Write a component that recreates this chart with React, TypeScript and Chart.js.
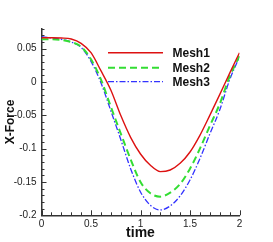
import React, { useEffect, useRef } from "react";
import { Chart, registerables } from "chart.js";

Chart.register(...registerables);

const times = [0, 0.1, 0.2, 0.3, 0.4, 0.5, 0.6, 0.7, 0.8, 0.9, 1.0, 1.1, 1.2, 1.3, 1.4, 1.5, 1.6, 1.7, 1.8, 1.9, 2.0];
const mesh1 = [0.0665, 0.0665, 0.066, 0.0645, 0.058, 0.044, 0.017, -0.012, -0.05, -0.083, -0.108, -0.125, -0.1345, -0.132, -0.122, -0.105, -0.08, -0.05, -0.019, 0.013, 0.044];
const mesh2 = [0.064, 0.064, 0.063, 0.06, 0.053, 0.034, 0.004, -0.037, -0.077, -0.116, -0.15, -0.167, -0.172, -0.166, -0.153, -0.13, -0.1, -0.066, -0.033, 0.008, 0.039];
const mesh3 = [0.068, 0.066, 0.064, 0.06, 0.052, 0.031, -0.001, -0.043, -0.086, -0.13, -0.165, -0.185, -0.192, -0.186, -0.171, -0.147, -0.115, -0.078, -0.042, 0.003, 0.038];
const seriesNames = ["Mesh1", "Mesh2", "Mesh3"];
const xTickValues = [0, 0.5, 1, 1.5, 2];
const yTickValues = [-0.2, -0.15, -0.1, -0.05, 0, 0.05];

const FONT = "'Liberation Sans', Arial, Helvetica, sans-serif";

const tickPlugin = {
  id: "innerTicks",
  afterDraw(chart: any) {
    const { ctx, chartArea, scales } = chart;
    const xs = scales.x;
    const ys = scales.y;
    ctx.save();
    ctx.strokeStyle = "#333";
    ctx.lineWidth = 1;
    for (let i = 0; i <= 20; i++) {
      const v = i / 10;
      const px = Math.round(xs.getPixelForValue(v)) + 0.5;
      const major = i % 5 === 0;
      const len = major ? 5 : 3;
      ctx.beginPath();
      ctx.moveTo(px, chartArea.bottom);
      ctx.lineTo(px, chartArea.bottom - len);
      ctx.stroke();
    }
    for (let i = -20; i <= 8; i++) {
      const v = i / 100;
      const py = Math.round(ys.getPixelForValue(v)) + 0.5;
      const major = i % 5 === 0;
      const len = major ? 5 : 3;
      ctx.beginPath();
      ctx.moveTo(chartArea.left, py);
      ctx.lineTo(chartArea.left + len, py);
      ctx.stroke();
    }
    // legend
    const ds = chart.data.datasets;
    const rowY = [52.7, 67.7, 81.7];
    ds.forEach((d: any, i: number) => {
      const y = rowY[i];
      ctx.save();
      ctx.strokeStyle = d.borderColor;
      ctx.lineWidth = d.borderWidth;
      ctx.setLineDash(d.borderDash || []);
      ctx.beginPath();
      ctx.moveTo(108, y);
      ctx.lineTo(163, y);
      ctx.stroke();
      ctx.restore();
      ctx.fillStyle = "#111";
      ctx.font = `bold 12px ${FONT}`;
      ctx.textBaseline = "middle";
      ctx.textAlign = "left";
      ctx.fillText(d.label, 172.5, y + 0.5);
    });
    ctx.restore();
  },
};

export default function App() {
  const ref = useRef<HTMLCanvasElement | null>(null);
  useEffect(() => {
    document.body.style.margin = "0";
    const mk = (arr: number[]) => times.map((t, i) => ({ x: t, y: arr[i] }));
    const chart = new Chart(ref.current as HTMLCanvasElement, {
      type: "line",
      data: {
        datasets: [
          {
            label: seriesNames[0],
            data: mk(mesh1),
            borderColor: "#dd1111",
            borderWidth: 1.4,
            pointRadius: 0,
            cubicInterpolationMode: "monotone",
          },
          {
            label: seriesNames[1],
            data: mk(mesh2),
            borderColor: "#33dd33",
            borderWidth: 2,
            borderDash: [7, 4],
            pointRadius: 0,
            cubicInterpolationMode: "monotone",
          },
          {
            label: seriesNames[2],
            data: mk(mesh3),
            borderColor: "#3333ff",
            borderWidth: 1.3,
            borderDash: [6, 2, 1.5, 2],
            pointRadius: 0,
            cubicInterpolationMode: "monotone",
          },
        ],
      } as any,
      options: {
        animation: false,
        responsive: false,
        devicePixelRatio: 1,
        layout: { padding: { left: 0, top: 28.7, right: 33.5, bottom: 0 } },
        plugins: { legend: { display: false }, tooltip: { enabled: false } },
        scales: {
          x: {
            type: "linear",
            min: 0,
            max: 2,
            afterFit(s: any) {
              s.height = 26.7;
            },
            afterBuildTicks(s: any) {
              s.ticks = xTickValues.map((v) => ({ value: v }));
            },
            ticks: {
              padding: 3,
              color: "#222",
              font: { family: FONT, size: 10 },
              maxRotation: 0,
              autoSkip: false,
              callback: (v: any) => String(Number(Number(v).toFixed(2))),
            },
            grid: { display: true, drawOnChartArea: false, drawTicks: false },
            border: { display: true, color: "#333", width: 1.5 },
            title: {
              display: true,
              text: "time",
              color: "#111",
              font: { family: FONT, size: 14, weight: "bold" },
              padding: { top: 0, bottom: 0 },
            },
          },
          y: {
            type: "linear",
            min: -0.2,
            max: 0.08,
            afterFit(s: any) {
              s.width = 41.5;
            },
            afterBuildTicks(s: any) {
              s.ticks = yTickValues.map((v) => ({ value: v }));
            },
            ticks: {
              padding: 5,
              color: "#222",
              font: { family: FONT, size: 10 },
              autoSkip: false,
              callback: (v: any) => String(Number(Number(v).toFixed(2))),
            },
            grid: { display: true, drawOnChartArea: false, drawTicks: false },
            border: { display: true, color: "#333", width: 1.5 },
            title: {
              display: true,
              text: "X-Force",
              color: "#111",
              font: { family: FONT, size: 12, weight: "bold" },
              padding: { top: 3, bottom: 0 },
            },
          },
        },
      } as any,
      plugins: [tickPlugin],
    });
    return () => chart.destroy();
  }, []);
  return (
    <div style={{ width: 273, height: 242 }}>
      <canvas ref={ref} width={273} height={242} style={{ width: 273, height: 242, display: "block" }} />
    </div>
  );
}
